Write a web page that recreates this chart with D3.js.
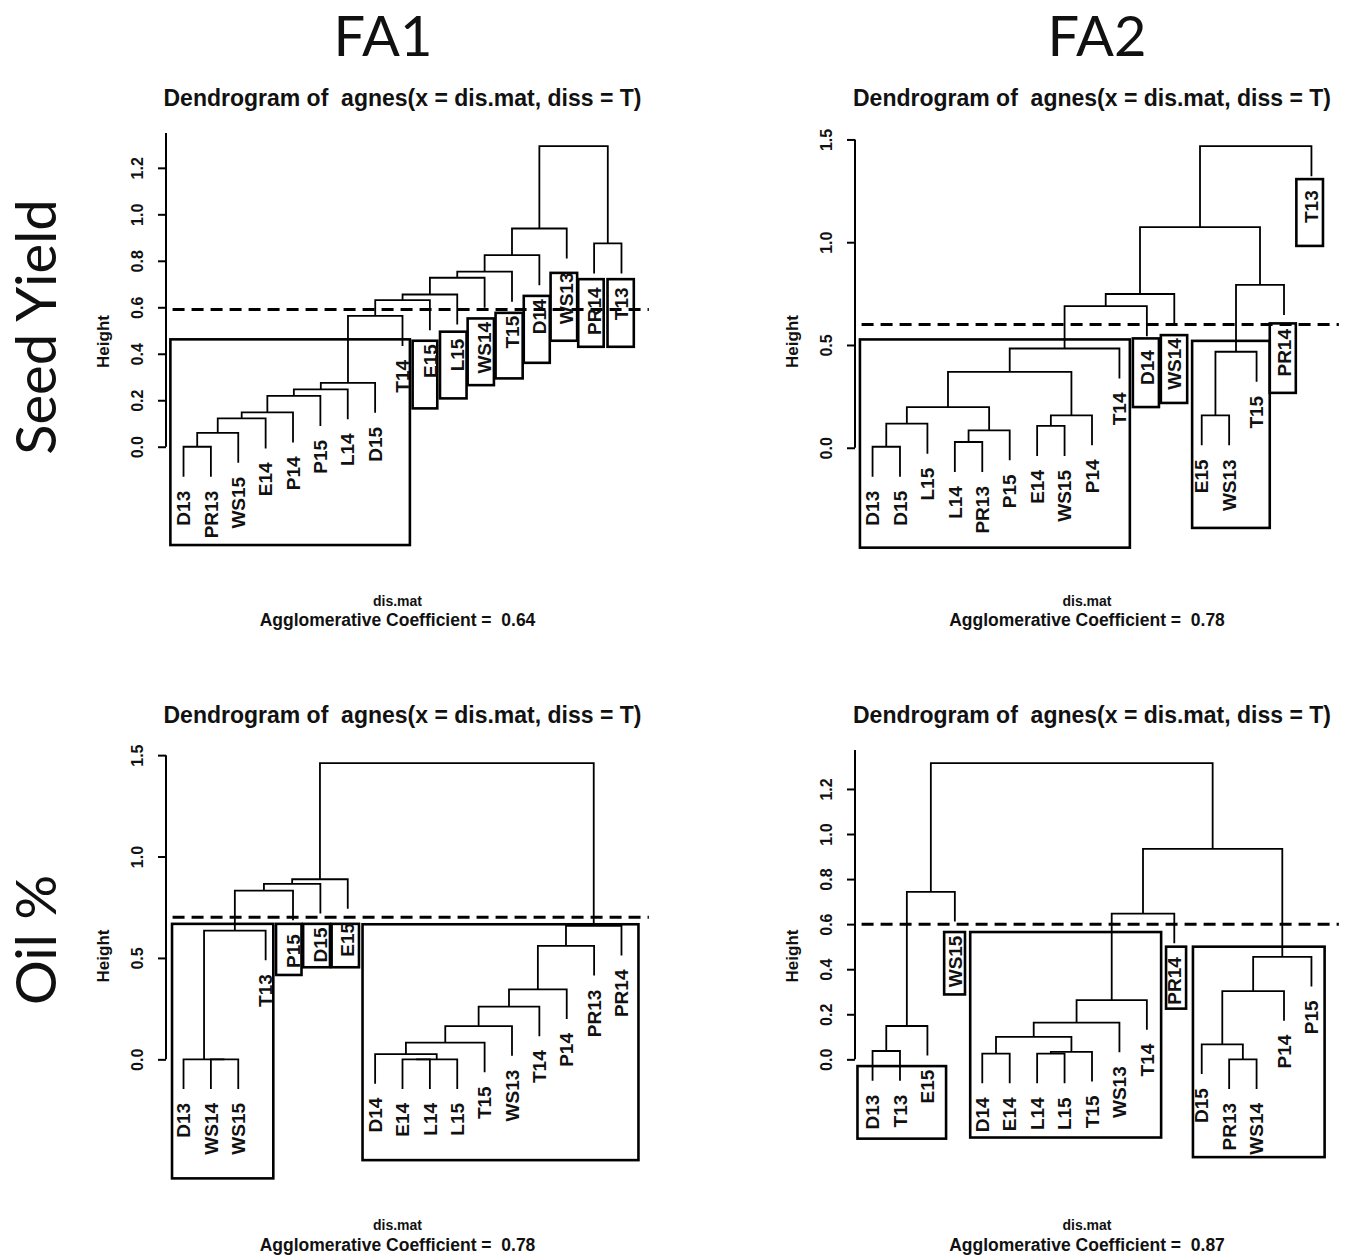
<!DOCTYPE html>
<html>
<head>
<meta charset="utf-8">
<title>agnes dendrograms</title>
<script src="https://cdn.jsdelivr.net/npm/d3@7"></script>
<style>
    body { margin: 0; background: #fff; }
    svg text { fill: #111; }
</style>
</head>
<body>
<script>
//wrap everything in a self-executing anonymous function
(function(){

//column and row headings
var colHeads = ["FA1", "FA2"];
var rowHeads = ["Seed Yield", "Oil %"];

//texts that R puts on every panel
var plotTitle = "Dendrogram of  agnes(x = dis.mat, diss = T)";
var xLabel = "dis.mat";
var yLabel = "Height";

//agglomerative coefficient per panel (seed FA1, seed FA2, oil FA1, oil FA2)
var aggCoefs = [0.64, 0.78, 0.78, 0.87];

//height of the dashed cut line per panel
var cutHeights = [0.59, 0.60, 0.70, 0.60];

//y tick values, pretty() of the merge heights
var ticksFine = [0, 0.2, 0.4, 0.6, 0.8, 1.0, 1.2, 1.4];
var ticksCoarse = [0, 0.5, 1.0, 1.5];

//merges are [child, child, height]: a string child is a leaf,
//a number child is an earlier merge (1-based, like hclust$merge)
//boxes are [from, to, top, bottom] in leaf position / height units

//seed yield, FA1
var seedFA1Order = ["D13", "PR13", "WS15", "E14", "P14", "P15", "L14", "D15", "T14",
    "E15", "L15", "WS14", "T15", "D14", "WS13", "PR14", "T13"];
var seedFA1Merges = [
    ["D13", "PR13", 0.0],
    [1, "WS15", 0.060],
    [2, "E14", 0.122],
    [3, "P14", 0.148],
    [4, "P15", 0.219],
    [5, "L14", 0.247],
    [6, "D15", 0.275],
    [7, "T14", 0.563],
    [8, "E15", 0.631],
    [9, "L15", 0.655],
    [10, "WS14", 0.727],
    [11, "T15", 0.753],
    [12, "D14", 0.824],
    [13, "WS13", 0.939],
    ["PR14", "T13", 0.875],
    [14, 15, 1.293]
];
var seedFA1Boxes = [
    [0.52, 9.27, 0.462, -0.423],
    [9.37, 10.27, 0.456, 0.165],
    [10.37, 11.34, 0.495, 0.208],
    [11.38, 12.34, 0.552, 0.265],
    [12.40, 13.39, 0.576, 0.294],
    [13.43, 14.38, 0.649, 0.361],
    [14.41, 15.38, 0.748, 0.456],
    [15.42, 16.35, 0.721, 0.430],
    [16.49, 17.45, 0.721, 0.430]
];

//seed yield, FA2
var seedFA2Order = ["D13", "D15", "L15", "L14", "PR13", "P15", "E14", "WS15", "P14",
    "T14", "D14", "WS14", "E15", "WS13", "T15", "PR14", "T13"];
var seedFA2Merges = [
    ["D13", "D15", 0.005],
    [1, "L15", 0.117],
    ["L14", "PR13", 0.028],
    [3, "P15", 0.085],
    [2, 4, 0.198],
    ["E14", "WS15", 0.106],
    [6, "P14", 0.158],
    [5, 7, 0.369],
    [8, "T14", 0.483],
    [9, "D14", 0.689],
    [10, "WS14", 0.748],
    ["E15", "WS13", 0.158],
    [12, "T15", 0.467],
    [13, "PR14", 0.792],
    [11, 14, 1.073],
    [15, "T13", 1.467]
];
var seedFA2Boxes = [
    [0.54, 10.38, 0.527, -0.486],
    [10.49, 11.44, 0.532, 0.198],
    [11.51, 12.47, 0.548, 0.218],
    [12.65, 15.48, 0.520, -0.390],
    [15.48, 16.43, 0.605, 0.267],
    [16.45, 17.42, 1.307, 0.982]
];

//oil %, FA1
var oilFA1Order = ["D13", "WS14", "WS15", "T13", "P15", "D15", "E15", "D14", "E14",
    "L14", "L15", "T15", "WS13", "T14", "P14", "PR13", "PR14"];
var oilFA1Merges = [
    ["WS14", "WS15", 0.0],
    ["D13", 1, 0.0],
    [2, "T13", 0.635],
    [3, "P15", 0.832],
    [4, "D15", 0.865],
    [5, "E15", 0.888],
    ["E14", "L14", 0.0],
    [7, "L15", 0.0],
    ["D14", 8, 0.026],
    [9, "T15", 0.082],
    [10, "WS13", 0.164],
    [11, "T14", 0.260],
    [12, "P14", 0.345],
    [13, "PR13", 0.559],
    [14, "PR14", 0.658],
    [6, 15, 1.461]
];
var oilFA1Boxes = [
    [0.58, 4.28, 0.668, -0.587],
    [4.38, 5.31, 0.668, 0.416],
    [5.37, 6.35, 0.668, 0.454],
    [6.41, 7.41, 0.668, 0.454],
    [7.54, 17.62, 0.666, -0.497]
];

//oil %, FA2
var oilFA2Order = ["D13", "T13", "E15", "WS15", "D14", "E14", "L14", "L15", "T15",
    "WS13", "T14", "PR14", "D15", "PR13", "WS14", "P14", "P15"];
var oilFA2Merges = [
    ["D13", "T13", 0.037],
    [1, "E15", 0.148],
    [2, "WS15", 0.743],
    ["D14", "E14", 0.025],
    ["L14", "L15", 0.025],
    [5, "T15", 0.033],
    [4, 6, 0.100],
    [7, "WS13", 0.163],
    [8, "T14", 0.263],
    [9, "PR14", 0.647],
    ["PR13", "WS14", 0.0],
    ["D15", 11, 0.066],
    [12, "P14", 0.303],
    [13, "P15", 0.455],
    [10, 14, 0.934],
    [3, 15, 1.315]
];
var oilFA2Boxes = [
    [0.45, 3.68, -0.030, -0.352],
    [3.61, 4.37, 0.565, 0.288],
    [4.56, 11.52, 0.565, -0.347],
    [11.70, 12.43, 0.500, 0.225],
    [12.68, 17.48, 0.500, -0.434]
];

//figure size and panel frames
var width = 1349,
    height = 1260;
var colFrames = [
    {left: 166, right: 639, head: 383},
    {left: 855, right: 1329, head: 1097}
];
var rowFrames = [
    {top: 133, bottom: 490, title: 106, sub1: 606, sub2: 626, head: 327},
    {top: 750, bottom: 1102, title: 723, sub1: 1230, sub2: 1251, head: 940}
];

var rFont = "'Liberation Sans', Arial, Helvetica, sans-serif";
var headFont = "Lato, 'Open Sans', sans-serif";

setFigure();

function setFigure(){

    var svg = d3.select("body")
        .append("svg")
        .attr("width", width)
        .attr("height", height)
        .style("display", "block");

    //FA1 / FA2 over the columns
    svg.selectAll(".colHead")
        .data(colHeads)
        .enter()
        .append("text")
        .attr("class", "colHead")
        .attr("x", function(d, i){ return colFrames[i].head; })
        .attr("y", 56)
        .attr("text-anchor", "middle")
        .style("font-family", headFont)
        .style("font-size", "56px")
        .text(function(d){ return d; });

    //trait names down the left side
    svg.selectAll(".rowHead")
        .data(rowHeads)
        .enter()
        .append("text")
        .attr("class", "rowHead")
        .attr("transform", function(d, i){
            return "translate(56," + rowFrames[i].head + ") rotate(-90)";
        })
        .attr("text-anchor", "middle")
        .style("font-family", headFont)
        .style("font-size", "56px")
        .text(function(d){ return d; });

    var panels = [
        {order: seedFA1Order, merges: seedFA1Merges, boxes: seedFA1Boxes, ticks: ticksFine},
        {order: seedFA2Order, merges: seedFA2Merges, boxes: seedFA2Boxes, ticks: ticksCoarse},
        {order: oilFA1Order, merges: oilFA1Merges, boxes: oilFA1Boxes, ticks: ticksCoarse},
        {order: oilFA2Order, merges: oilFA2Merges, boxes: oilFA2Boxes, ticks: ticksFine}
    ];

    panels.forEach(function(p, i){
        p.cut = cutHeights[i];
        p.coef = aggCoefs[i];
        drawPanel(svg, p, colFrames[i % 2], rowFrames[Math.floor(i / 2)]);
    });
};

//draw one plot.hclust style dendrogram
function drawPanel(svg, p, cf, rf){

    var n = p.order.length;
    var g = svg.append("g");

    //leaf positions 1..n with R's 4% padding
    var xScale = d3.scaleLinear()
        .domain([1 - 0.04 * (n - 1), n + 0.04 * (n - 1)])
        .range([cf.left, cf.right]);

    var maxH = d3.max(p.merges, function(m){ return m[2]; }),
        minH = d3.min(p.merges, function(m){ return m[2]; }),
        hang = 0.1 * (maxH - minH);

    //x and height of every merge; leaves hang below their parent
    var nodes = [], leaves = [];
    p.merges.forEach(function(m){
        var kids = [m[0], m[1]].map(function(c){
            if (typeof c === "string"){
                var leaf = {label: c, x: p.order.indexOf(c) + 1, h: m[2] - hang};
                leaves.push(leaf);
                return leaf;
            }
            return nodes[c - 1];
        });
        nodes.push({x: (kids[0].x + kids[1].x) / 2, h: m[2], kids: kids});
    });

    var lo = d3.min(leaves, function(d){ return d.h; }),
        pad = 0.04 * (maxH - lo);

    var yScale = d3.scaleLinear()
        .domain([lo - pad, maxH + pad])
        .range([rf.bottom, rf.top]);

    //title
    g.append("text")
        .attr("x", (cf.left + cf.right) / 2)
        .attr("y", rf.title)
        .attr("text-anchor", "middle")
        .style("font-family", rFont)
        .style("font-weight", "bold")
        .style("font-size", "23px")
        .style("white-space", "pre")
        .text(plotTitle);

    //x label and coefficient underneath
    var mid = (cf.left + cf.right) / 2 - 5;
    g.append("text")
        .attr("x", mid)
        .attr("y", rf.sub1)
        .attr("text-anchor", "middle")
        .style("font-family", rFont)
        .style("font-weight", "bold")
        .style("font-size", "14px")
        .text(xLabel);
    g.append("text")
        .attr("x", mid)
        .attr("y", rf.sub2)
        .attr("text-anchor", "middle")
        .style("font-family", rFont)
        .style("font-weight", "bold")
        .style("font-size", "17.5px")
        .style("white-space", "pre")
        .text("Agglomerative Coefficient =  " + d3.format(".2f")(p.coef));

    //y axis, line clipped to the plot region like R does
    var top = maxH + pad;
    var shown = p.ticks.filter(function(t){ return t <= top; });
    var axis = d3.axisLeft(yScale)
        .tickValues(shown)
        .tickSize(8)
        .tickFormat(d3.format(".1f"));

    var gAxis = g.append("g")
        .attr("transform", "translate(" + cf.left + ",0)")
        .call(axis);
    gAxis.select(".domain").remove();
    gAxis.append("line")
        .attr("y1", yScale(p.ticks[0]))
        .attr("y2", yScale(Math.min(d3.max(p.ticks), top)))
        .attr("stroke", "#000")
        .attr("stroke-width", 2);
    gAxis.selectAll(".tick line")
        .attr("stroke", "#000")
        .attr("stroke-width", 2);
    gAxis.selectAll(".tick text")
        .attr("x", 0)
        .attr("y", -23)
        .attr("dy", 0)
        .attr("transform", "rotate(-90)")
        .attr("text-anchor", "middle")
        .attr("fill", "#111")
        .style("font-family", rFont)
        .style("font-weight", "bold")
        .style("font-size", "16px");

    //"Height"
    g.append("text")
        .attr("transform", "translate(" + (cf.left - 57) + "," + ((rf.top + rf.bottom) / 2 + 30) + ") rotate(-90)")
        .attr("text-anchor", "middle")
        .style("font-family", rFont)
        .style("font-weight", "bold")
        .style("font-size", "17px")
        .text(yLabel);

    //cluster boxes
    g.selectAll(".box")
        .data(p.boxes)
        .enter()
        .append("rect")
        .attr("class", "box")
        .attr("x", function(d){ return xScale(d[0]); })
        .attr("y", function(d){ return yScale(d[2]); })
        .attr("width", function(d){ return xScale(d[1]) - xScale(d[0]); })
        .attr("height", function(d){ return yScale(d[3]) - yScale(d[2]); })
        .attr("fill", "none")
        .attr("stroke", "#000")
        .attr("stroke-width", 2.6);

    //dashed cut line
    g.append("line")
        .attr("x1", xScale(0.6))
        .attr("x2", xScale(n + 1))
        .attr("y1", yScale(p.cut))
        .attr("y2", yScale(p.cut))
        .attr("stroke", "#000")
        .attr("stroke-width", 3)
        .attr("stroke-dasharray", "12,7");

    //dendrogram branches: up from each child, across at the merge height
    g.selectAll(".branch")
        .data(nodes)
        .enter()
        .append("path")
        .attr("class", "branch")
        .attr("d", function(d){
            var a = d.kids[0], b = d.kids[1];
            return "M" + xScale(a.x) + "," + yScale(a.h) +
                "V" + yScale(d.h) +
                "H" + xScale(b.x) +
                "V" + yScale(b.h);
        })
        .attr("fill", "none")
        .attr("stroke", "#000")
        .attr("stroke-width", 1.8);

    //leaf labels, rotated and hanging under the leaf ends
    g.selectAll(".leaf")
        .data(leaves)
        .enter()
        .append("text")
        .attr("class", "leaf")
        .attr("transform", function(d){
            return "translate(" + xScale(d.x) + "," + (yScale(d.h) + 14) + ") rotate(-90)";
        })
        .attr("dy", "0.35em")
        .attr("text-anchor", "end")
        .style("font-family", rFont)
        .style("font-weight", "bold")
        .style("font-size", "19px")
        .text(function(d){ return d.label; });
};

})();
</script>
</body>
</html>
